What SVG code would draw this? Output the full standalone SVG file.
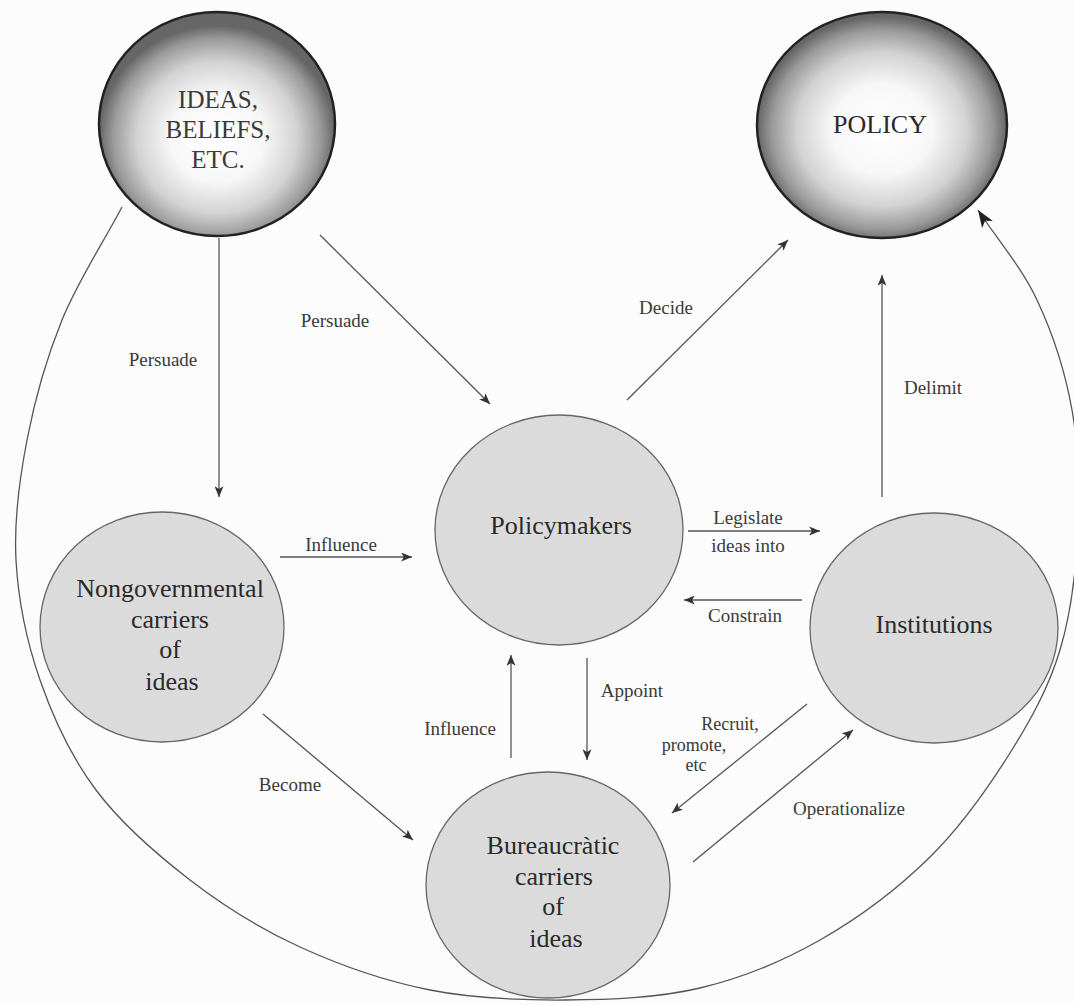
<svg xmlns="http://www.w3.org/2000/svg" width="1074" height="1005" viewBox="0 0 1074 1005">
<defs>
<radialGradient id="gIdeas" cx="50%" cy="56%" r="50%">
<stop offset="0%" stop-color="#ffffff"/>
<stop offset="40%" stop-color="#f7f7f7"/>
<stop offset="68%" stop-color="#d2d2d2"/>
<stop offset="88%" stop-color="#9a9a9a"/>
<stop offset="100%" stop-color="#666666"/>
</radialGradient>
<radialGradient id="gPolicy" cx="50%" cy="52%" r="50%">
<stop offset="0%" stop-color="#ffffff"/>
<stop offset="40%" stop-color="#f7f7f7"/>
<stop offset="68%" stop-color="#d2d2d2"/>
<stop offset="88%" stop-color="#9a9a9a"/>
<stop offset="100%" stop-color="#666666"/>
</radialGradient>
<marker id="ah" viewBox="0 0 12 10" refX="12" refY="5" markerWidth="12" markerHeight="9" markerUnits="userSpaceOnUse" orient="auto">
<path d="M0,0 L12,5 L0,10 L3,5 z" fill="#333"/>
</marker>
<marker id="ahBig" viewBox="0 0 16 12" refX="16" refY="6" markerWidth="18" markerHeight="13" markerUnits="userSpaceOnUse" orient="auto">
<path d="M0,0 L16,6 L0,12 L4,6 z" fill="#222"/>
</marker>
</defs>
<style>
.bg{fill:#fcfcfc}
.dark{stroke:#222;stroke-width:2.5}
.node{fill:#dbdbdb;stroke:#666;stroke-width:1.3}
.ntext{font-family:"Liberation Serif","Times New Roman",serif;font-size:26px;fill:#2a2a2a;text-anchor:middle}
.ttext{font-family:"Liberation Serif","Times New Roman",serif;font-size:25px;fill:#3a3a3a;text-anchor:middle}
.lbl{font-family:"Liberation Serif","Times New Roman",serif;font-size:19px;fill:#3a3a3a;text-anchor:middle}
.sm{font-size:18px}
.edge{fill:none;stroke:#555;stroke-width:1.3}
</style>
<rect class="bg" x="0" y="0" width="1074" height="1005"/>

<g id="connectors">
<path class="edge" marker-end="url(#ahBig)" d="M122,207 C102,244.7 77.8,281.2 62,320 S34.7,400 27,440 S13.8,520 16,560 S26.7,641.7 40,680 S71,756.7 96,790 S156,853.8 190,880 S260,928.7 300,947 S385.8,981.2 430,990 S520,1000.3 565,1000 S657.5,998 700,988 S781.7,961.8 820,940 S898.3,888.2 930,857 S988.3,787.5 1010,753 S1048.7,687.2 1060,650 S1076,570 1078,530 S1078.8,448.3 1072,410 S1052.7,333.3 1037,300 S997.7,240 978,210"/>
<line class="edge" marker-end="url(#ah)" x1="219" y1="238" x2="219" y2="497"/>
<line class="edge" marker-end="url(#ah)" x1="320" y1="235" x2="490" y2="404"/>
<line class="edge" marker-end="url(#ah)" x1="627" y1="400" x2="788" y2="240"/>
<line class="edge" marker-end="url(#ah)" x1="882" y1="497" x2="882" y2="275"/>
<line class="edge" marker-end="url(#ah)" x1="280" y1="557" x2="412" y2="557"/>
<line class="edge" marker-end="url(#ah)" x1="688" y1="531" x2="820" y2="531"/>
<line class="edge" marker-end="url(#ah)" x1="802" y1="600" x2="684" y2="600"/>
<line class="edge" marker-end="url(#ah)" x1="587" y1="658" x2="587" y2="760"/>
<line class="edge" marker-end="url(#ah)" x1="511" y1="758" x2="511" y2="655"/>
<line class="edge" marker-end="url(#ah)" x1="807" y1="704" x2="672" y2="813"/>
<line class="edge" marker-end="url(#ah)" x1="693" y1="862" x2="853" y2="730"/>
<line class="edge" marker-end="url(#ah)" x1="263" y1="714" x2="413" y2="840"/>
<text class="lbl" x="163" y="366">Persuade</text>
<text class="lbl" x="335" y="327">Persuade</text>
<text class="lbl" x="666" y="314">Decide</text>
<text class="lbl" x="933" y="394">Delimit</text>
<text class="lbl" x="341" y="551">Influence</text>
<text class="lbl" x="748" y="524">Legislate</text>
<text class="lbl" x="748" y="552">ideas into</text>
<text class="lbl" x="745" y="622">Constrain</text>
<text class="lbl" x="632" y="697">Appoint</text>
<text class="lbl" x="460" y="735">Influence</text>
<text class="lbl sm" x="730" y="730">Recruit,</text>
<text class="lbl sm" x="694" y="751">promote,</text>
<text class="lbl sm" x="696" y="771">etc</text>
<text class="lbl" x="849" y="815">Operationalize</text>
<text class="lbl" x="290" y="791">Become</text>
</g>

<g id="ideas">
<ellipse class="dark" cx="217" cy="124" rx="118" ry="112" fill="url(#gIdeas)"/>
<text class="ttext" x="218" y="108">IDEAS,</text>
<text class="ttext" x="218" y="138">BELIEFS,</text>
<text class="ttext" x="218" y="168">ETC.</text>
</g>
<g id="policy">
<ellipse class="dark" cx="882" cy="125" rx="125" ry="113" fill="url(#gPolicy)"/>
<text class="ntext" x="880" y="133">POLICY</text>
</g>
<g id="policymakers">
<ellipse class="node" cx="559" cy="530" rx="124" ry="115"/>
<text class="ntext" x="561" y="534">Policymakers</text>
</g>
<g id="nongovernmental">
<ellipse class="node" cx="162" cy="627" rx="122" ry="115"/>
<text class="ntext" x="170" y="597">Nongovernmental</text>
<text class="ntext" x="170" y="628">carriers</text>
<text class="ntext" x="170" y="658">of</text>
<text class="ntext" x="172" y="690">ideas</text>
</g>
<g id="institutions">
<ellipse class="node" cx="934" cy="628" rx="124" ry="115"/>
<text class="ntext" x="934" y="633">Institutions</text>
</g>
<g id="bureaucratic">
<ellipse class="node" cx="548" cy="885" rx="122" ry="113"/>
<text class="ntext" x="553" y="854">Bureaucràtic</text>
<text class="ntext" x="554" y="885">carriers</text>
<text class="ntext" x="553" y="915">of</text>
<text class="ntext" x="556" y="947">ideas</text>
</g>
</svg>
